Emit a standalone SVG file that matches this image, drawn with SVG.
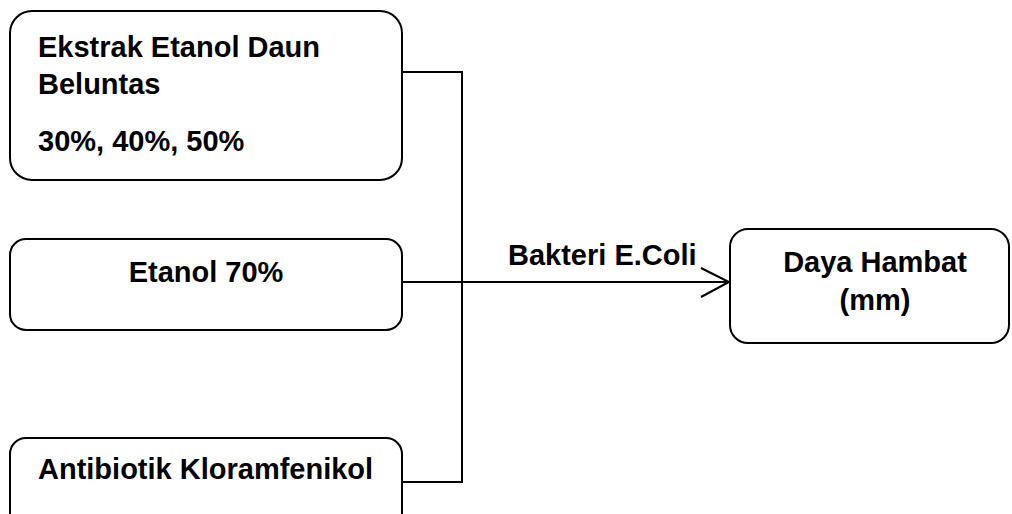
<svg xmlns="http://www.w3.org/2000/svg" width="1012" height="514" viewBox="0 0 1012 514">
<style>
.box{fill:#fff;stroke:#000;stroke-width:2}
.t{font-family:"Liberation Sans",Arial,sans-serif;font-weight:bold;font-size:29px;fill:#000}
.c{text-anchor:middle}
.ln{fill:none;stroke:#000;stroke-width:2}
</style>
<rect width="1012" height="514" fill="#fff"/>
<g id="connectors">
<polyline class="ln" points="402,72 462,72 462,482 402,482"/>
<line class="ln" x1="402" y1="282" x2="729" y2="282"/>
<polyline class="ln" points="701,268 729,282 701,297"/>
<text class="t" x="508" y="265">Bakteri E.Coli</text>
</g>
<g id="node-ekstrak">
<rect class="box" x="10" y="11" width="392" height="169" rx="22"/>
<text class="t" x="38" y="57">Ekstrak Etanol Daun</text>
<text class="t" x="38" y="94">Beluntas</text>
<text class="t" x="38" y="151">30%, 40%, 50%</text>
</g>
<g id="node-etanol">
<rect class="box" x="10" y="239" width="392" height="91" rx="16"/>
<text class="t c" x="206" y="282">Etanol 70%</text>
</g>
<g id="node-antibiotik">
<rect class="box" x="10" y="438" width="392" height="92" rx="16"/>
<text class="t" x="38" y="479">Antibiotik Kloramfenikol</text>
</g>
<g id="node-daya">
<rect class="box" x="730" y="229" width="279" height="114" rx="18"/>
<text class="t c" x="875" y="272">Daya Hambat</text>
<text class="t c" x="875" y="310">(mm)</text>
</g>
</svg>
